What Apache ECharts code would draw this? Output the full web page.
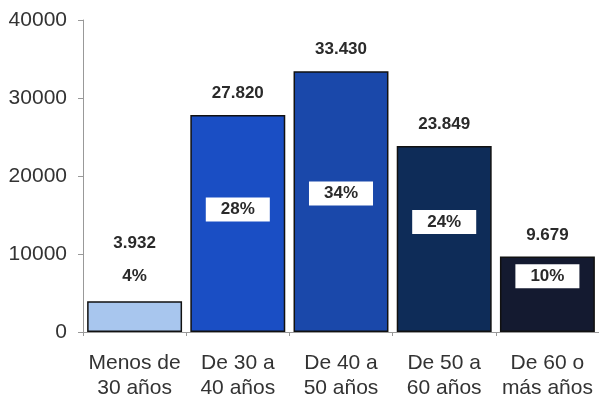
<!DOCTYPE html>
<html>
<head>
<meta charset="utf-8">
<script src="https://cdn.jsdelivr.net/npm/echarts@6/dist/echarts.min.js"></script>
<style>
html,body{margin:0;padding:0;background:#fff;}
#chart{width:599px;height:402px;}
</style>
</head>
<body>
<div id="chart"></div>
<script>
var categories = ['Menos de\n30 años', 'De 30 a\n40 años', 'De 40 a\n50 años', 'De 50 a\n60 años', 'De 60 o\nmás años'];
var values = [3932, 27820, 33430, 23849, 9679];
var percents = [4, 28, 34, 24, 10];
var yTicks = [0, 10000, 20000, 30000, 40000];

var barColors = ['#a8c6ee', '#1a4ec4', '#1a48aa', '#0e2c58', '#141a30'];
var pctOffsetY = [0, -14, -8, -17, -18];

function fmtThousands(v) {
  return String(v).replace(/\B(?=(\d{3})+(?!\d))/g, '.');
}

var font = 'Liberation Sans, Arial, sans-serif';

var chart = echarts.init(document.getElementById('chart'), null, {renderer: 'canvas'});

var mainData = values.map(function (v, i) {
  return {
    value: v,
    itemStyle: {color: barColors[i], borderColor: '#111', borderWidth: 1.5},
    label: {distance: i === 0 ? 50 : 13}
  };
});

var pctData = values.map(function (v, i) {
  if (i === 0) {
    return {
      value: v,
      label: {
        show: true, position: 'top', distance: 17,
        formatter: percents[i] + '%',
        color: '#2a2a2a', fontWeight: 'bold', fontSize: 17, fontFamily: font
      }
    };
  }
  return {
    value: v,
    label: {
      show: true, position: 'inside', offset: [0, pctOffsetY[i]],
      formatter: percents[i] + '%',
      color: '#2a2a2a', fontWeight: 'bold', fontSize: 17, fontFamily: font,
      backgroundColor: '#fff', padding: [4, 15, 3, 15]
    }
  };
});

chart.setOption({
  animation: false,
  backgroundColor: '#fff',
  grid: {left: 83, top: 20, width: 518, bottom: 70, containLabel: false},
  xAxis: {
    type: 'category',
    data: categories,
    axisLine: {show: true, lineStyle: {color: '#999', width: 1}},
    axisTick: {show: true, length: 4, lineStyle: {color: '#999'}, alignWithLabel: false},
    axisLabel: {color: '#333', fontSize: 21, fontFamily: font, margin: 19, lineHeight: 25, interval: 0}
  },
  yAxis: {
    type: 'value',
    min: yTicks[0],
    max: yTicks[yTicks.length - 1],
    interval: yTicks[1] - yTicks[0],
    axisLine: {show: true, lineStyle: {color: '#999', width: 1}},
    axisTick: {show: true, length: 5, lineStyle: {color: '#999'}},
    splitLine: {show: false},
    axisLabel: {color: '#333', fontSize: 21, fontFamily: font, margin: 16,
      formatter: function (v) { return String(v); }}
  },
  series: [
    {
      type: 'bar',
      data: mainData,
      barCategoryGap: '8%',
      label: {
        show: true, position: 'top',
        formatter: function (p) { return fmtThousands(p.value); },
        color: '#2a2a2a', fontWeight: 'bold', fontSize: 17, fontFamily: font
      },
      z: 2
    },
    {
      type: 'bar',
      data: pctData,
      barCategoryGap: '8%',
      barGap: '-100%',
      itemStyle: {color: 'rgba(0,0,0,0)'},
      silent: true,
      z: 3
    }
  ]
});
</script>
</body>
</html>
